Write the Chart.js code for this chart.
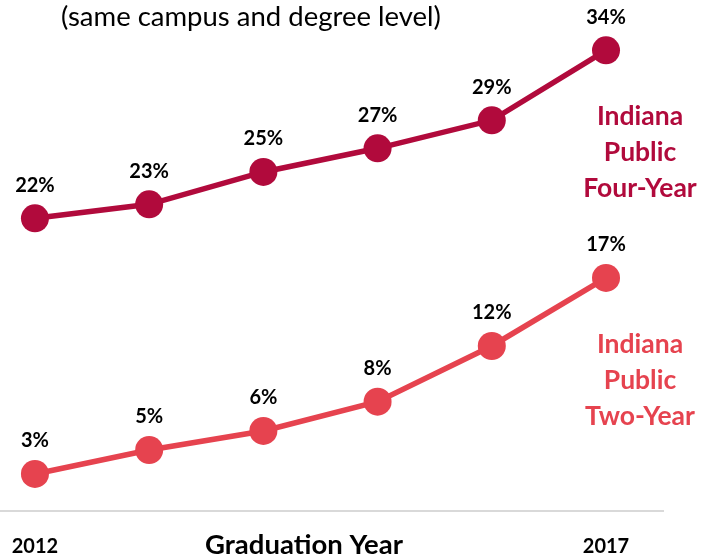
<!DOCTYPE html>
<html><head><meta charset="utf-8">
<script src="https://cdn.jsdelivr.net/npm/chart.js@4/dist/chart.umd.min.js"></script>
<style>html,body{margin:0;padding:0;background:#fff}#wrap{width:714px;height:558px}</style>
</head><body><div id="wrap"><canvas id="c" width="714" height="558"></canvas></div>
<script>
const years = [2012, 2013, 2014, 2015, 2016, 2017];
const xTickLabels = [2012, 2017];
const fourYear = [21.55, 22.55, 24.86, 26.55, 28.55, 33.55];
const twoYear = [3.29, 5.0, 6.36, 8.45, 12.43, 17.29];
const fourYearName = ['Indiana', 'Public', 'Four-Year'];
const twoYearName = ['Indiana', 'Public', 'Two-Year'];
const subtitle = '(same campus and degree level)';
const xTitle = 'Graduation Year';

const C4 = '#B10A3C', C2 = '#E6434F';
const FONT = 'Lato, "Open Sans", sans-serif';

const overlay = {
  id: 'overlay',
  afterDatasetsDraw(chart) {
    const ctx = chart.ctx;
    ctx.save();
    ctx.textAlign = 'center';
    ctx.textBaseline = 'middle';
    ctx.fillStyle = '#000';
    ctx.font = 'bold 20px ' + FONT;
    chart.data.datasets.forEach((ds, i) => {
      chart.getDatasetMeta(i).data.forEach((pt, j) => {
        ctx.fillText(Math.round(ds.data[j].y) + '%', pt.x, pt.y - 33);
      });
    });
    // series name labels to the right
    ctx.font = 'bold 26.5px ' + FONT;
    const ys = chart.scales.y;
    const lx = chart.chartArea.right - 23;
    const drawName = (lines, color, vTop) => {
      ctx.fillStyle = color;
      lines.forEach((t, k) => ctx.fillText(t, lx, ys.getPixelForValue(vTop) + k * 36));
    };
    drawName(fourYearName, C4, 28.8);
    drawName(twoYearName, C2, 12.57);
    // subtitle
    ctx.fillStyle = '#000';
    ctx.textBaseline = 'alphabetic';
    ctx.font = '27.5px ' + FONT;
    ctx.fillText(subtitle, 251, 26);
    // x axis title
    ctx.font = 'bold 27.5px ' + FONT;
    ctx.fillText(xTitle, 304, 554);
    ctx.restore();
  }
};

new Chart(document.getElementById('c'), {
  type: 'line',
  data: {
    datasets: [
      { label: 'Indiana Public Four-Year', data: years.map((y, i) => ({x: y, y: fourYear[i]})),
        borderColor: C4, backgroundColor: C4, borderWidth: 5.5, pointRadius: 14, pointHoverRadius: 14, pointBorderWidth: 0, tension: 0 },
      { label: 'Indiana Public Two-Year', data: years.map((y, i) => ({x: y, y: twoYear[i]})),
        borderColor: C2, backgroundColor: C2, borderWidth: 5.5, pointRadius: 14, pointHoverRadius: 14, pointBorderWidth: 0, tension: 0 }
    ]
  },
  options: {
    responsive: false,
    animation: false,
    clip: false,
    layout: { autoPadding: false, padding: { left: 0, right: 51, top: 16, bottom: -24 } },
    plugins: { legend: { display: false }, tooltip: { enabled: false } },
    scales: {
      x: {
        type: 'linear',
        min: 2011.694, max: 2017.499,
        afterBuildTicks(s) { s.ticks = xTickLabels.map(v => ({value: v})); },
        ticks: { color: '#000', font: { family: FONT, size: 20, weight: 'bold', lineHeight: '71px' }, padding: 0,
                 autoSkip: false, maxRotation: 0, callback: v => String(v) },
        grid: { display: false, drawTicks: false },
        border: { display: true, color: '#D9D9D9', width: 2 },
        title: { display: false }
      },
      y: { display: false, min: 0.643, max: 36.0 }
    }
  },
  plugins: [overlay]
});
</script></body></html>
